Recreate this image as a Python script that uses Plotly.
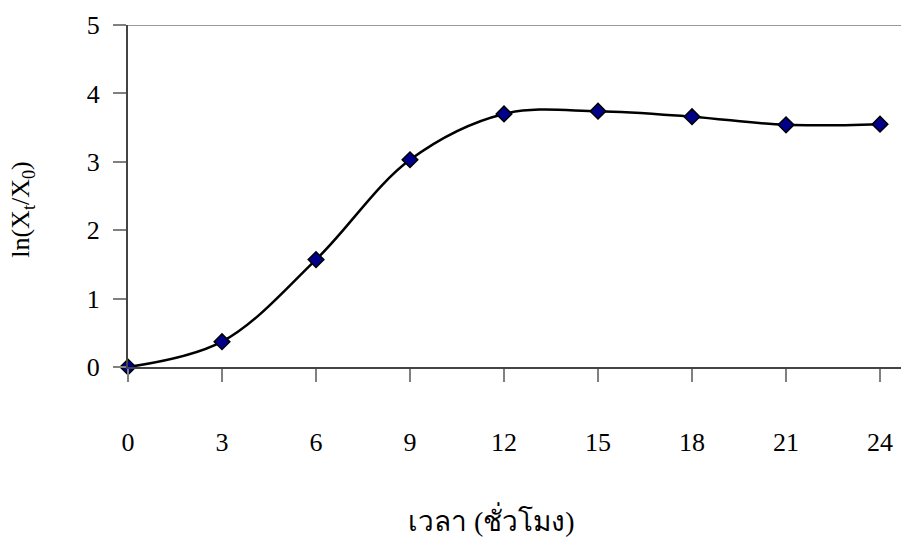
import plotly.graph_objects as go

# Growth curve: ln(Xt/X0) versus time in hours
hours = [0, 3, 6, 9, 12, 15, 18, 21, 24]
ln_ratio = [0.0, 0.37, 1.57, 3.03, 3.70, 3.74, 3.66, 3.54, 3.55]
x_ticks = [0, 3, 6, 9, 12, 15, 18, 21, 24]
y_ticks = [0, 1, 2, 3, 4, 5]

serif = "Liberation Serif, Times New Roman, serif"

fig = go.Figure()
fig.add_trace(go.Scatter(
    x=hours, y=ln_ratio,
    mode="lines+markers",
    line=dict(color="black", width=2.5, shape="spline", smoothing=1.0),
    marker=dict(symbol="diamond", size=12, color="#00008B",
                line=dict(color="black", width=1.5)),
    cliponaxis=False,
    showlegend=False,
))

fig.update_layout(
    width=901, height=550,
    margin=dict(l=128, r=0, t=25, b=183),
    paper_bgcolor="white", plot_bgcolor="white",
    font=dict(family=serif, size=26, color="black"),
    xaxis=dict(
        range=[0, 24.67], tickmode="array", tickvals=x_ticks,
        ticktext=[str(v) for v in x_ticks],
        showgrid=False, zeroline=False,
        showline=True, linecolor="#444444", linewidth=2,
        ticks="outside", ticklen=13, tickwidth=2, tickcolor="#808080",
        ticklabelstandoff=38,
        tickfont=dict(family=serif, size=26),
    ),
    yaxis=dict(
        range=[0, 5], tickmode="array", tickvals=y_ticks,
        showgrid=False, zeroline=False,
        showline=True, linecolor="#444444", linewidth=2,
        ticks="outside", ticklen=13, tickwidth=2, tickcolor="#808080",
        ticklabelstandoff=8,
        tickfont=dict(family=serif, size=26),
    ),
    shapes=[dict(type="line", xref="paper", yref="y", x0=0, x1=1, y0=5, y1=5,
                 line=dict(color="#999999", width=2))],
    annotations=[
        dict(text="ln(X<sub>t</sub>/X<sub>0</sub>)", xref="paper", yref="paper",
             x=-0.137, y=0.46, xanchor="center", yanchor="middle",
             textangle=-90, showarrow=False,
             font=dict(family=serif, size=26)),
        dict(text="เวลา (ชั่วโมง)", xref="paper", yref="paper",
             x=0.47, y=-0.447, xanchor="center", yanchor="middle",
             showarrow=False,
             font=dict(family="Liberation Serif, Noto Sans, sans-serif", size=28)),
    ],
)

fig.write_html("out.html")
